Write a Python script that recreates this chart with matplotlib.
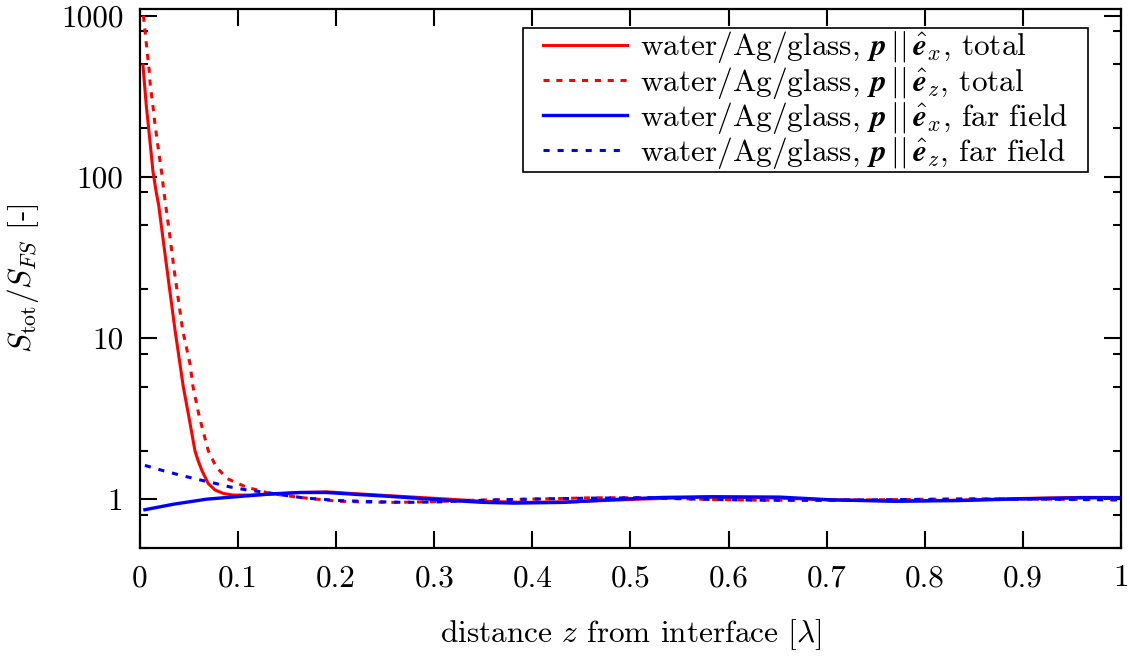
import numpy as np
import matplotlib
matplotlib.use("Agg")
import matplotlib.pyplot as plt
from matplotlib.patches import Rectangle
from matplotlib.ticker import FixedLocator, LogLocator, NullFormatter, FuncFormatter

plt.rcParams["font.family"] = "serif"
plt.rcParams["font.serif"] = ["cmr10"]
plt.rcParams["mathtext.fontset"] = "cm"
plt.rcParams["axes.formatter.use_mathtext"] = True

# ── Poynting flux, normalised to free space ─────────────────
# p || e_x, total
z_ex_tot = [0.003, 0.0064, 0.0099, 0.0133, 0.0166, 0.019, 0.025, 0.030,
            0.0357, 0.0441, 0.050, 0.056, 0.059, 0.063, 0.0696, 0.0765,
            0.085, 0.095, 0.112, 0.143, 0.163, 0.19, 0.221, 0.255, 0.315,
            0.35, 0.393, 0.445, 0.51, 0.575, 0.64, 0.705, 0.77, 0.835,
            0.90, 0.96, 1.0]
s_ex_tot = [494, 277, 172, 107, 80, 67, 35, 20.5,
            11.2, 5, 3.2, 2.0, 1.75, 1.51, 1.25, 1.14,
            1.085, 1.06, 1.06, 1.08, 1.10, 1.11, 1.08, 1.05, 1.0,
            0.97, 0.955, 0.965, 1.0, 1.03, 1.02, 0.99, 0.975, 0.985,
            1.01, 1.025, 1.025]

# p || e_z, total
z_ez_tot = [0.0035, 0.0054, 0.0071, 0.0092, 0.0105, 0.0129, 0.015, 0.0173,
            0.0197, 0.0221, 0.0241, 0.030, 0.035, 0.0435, 0.051, 0.054,
            0.0605, 0.0696, 0.0775, 0.089, 0.108, 0.1325, 0.16, 0.18,
            0.204, 0.231, 0.26, 0.3, 0.34, 0.38, 0.415, 0.462, 0.516, 0.584,
            0.635, 0.70, 0.78, 0.85, 0.92, 1.0]
s_ez_tot = [1000, 780, 610, 470, 370, 285, 220, 172,
            134, 106, 83, 45, 26, 11.2, 6.9, 5,
            3.24, 2.0, 1.59, 1.34, 1.19, 1.085, 1.03, 1.0,
            0.97, 0.96, 0.955, 0.965, 0.985, 0.995, 1.005, 1.02, 1.02, 0.995,
            0.985, 0.985, 0.995, 1.005, 1.0, 0.99]

# p || e_x, far field
z_ex_ff = [0.005, 0.034, 0.068, 0.102, 0.136, 0.163, 0.19, 0.221, 0.255,
           0.313, 0.35, 0.381, 0.432, 0.482, 0.533, 0.584, 0.652, 0.705,
           0.77, 0.835, 0.90, 0.96, 1.0]
s_ex_ff = [0.86, 0.93, 1.0, 1.04, 1.08, 1.10, 1.10, 1.07, 1.04,
           0.985, 0.955, 0.945, 0.955, 0.995, 1.025, 1.035, 1.03, 0.99,
           0.97, 0.98, 1.005, 1.02, 1.02]

# p || e_z, far field
z_ez_ff = [0.005, 0.024, 0.041, 0.058, 0.075, 0.092, 0.109, 0.129, 0.146,
           0.166, 0.183, 0.204, 0.238, 0.27, 0.3, 0.34, 0.38, 0.415, 0.462,
           0.516, 0.584, 0.635, 0.70, 0.78, 0.85, 0.92, 1.0]
s_ez_ff = [1.62, 1.50, 1.41, 1.33, 1.26, 1.19, 1.14, 1.10, 1.06,
           1.02, 1.0, 0.98, 0.965, 0.955, 0.96, 0.98, 0.995, 1.005, 1.015,
           1.02, 0.995, 0.985, 0.985, 0.995, 1.0, 1.0, 0.99]

x_ticks = [0, 0.1, 0.2, 0.3, 0.4, 0.5, 0.6, 0.7, 0.8, 0.9, 1.0]
x_ticklabels = ["0", "0.1", "0.2", "0.3", "0.4", "0.5", "0.6", "0.7", "0.8", "0.9", "1"]
y_ticks = [1, 10, 100, 1000]

lbl = r"water/Ag/glass, $\boldsymbol{{p}}\,||\,\hat{{\boldsymbol{{e}}}}_{0}$, {1}"

fig = plt.figure(figsize=(11.3, 6.57), dpi=100)
ax = fig.add_axes([0.1239, 0.1664, 0.868, 0.8199])

fs = 22.5
ax.plot(z_ex_tot, s_ex_tot, color="#ff0000", lw=2.2, label=lbl.format("x", "total"))
ax.plot(z_ez_tot, s_ez_tot, color="#ff0000", lw=2.2, dashes=(2, 2.2),
        label=lbl.format("z", "total"))
ax.plot(z_ex_ff, s_ex_ff, color="#0000ff", lw=2.4, label=lbl.format("x", "far field"))
ax.plot(z_ez_ff, s_ez_ff, color="#0000ff", lw=2.2, dashes=(2, 2.6),
        label=lbl.format("z", "far field"))

ax.set_yscale("log")
ax.set_xlim(0, 1)
ax.set_ylim(0.5, 1100)

ax.xaxis.set_major_locator(FixedLocator(x_ticks))
ax.set_xticklabels(x_ticklabels)
ax.yaxis.set_major_locator(FixedLocator(y_ticks))
ax.yaxis.set_major_formatter(FuncFormatter(lambda v, p: f"{v:g}"))
ax.yaxis.set_minor_locator(LogLocator(base=10, subs=(2, 5, 8)))
ax.yaxis.set_minor_formatter(NullFormatter())

ax.tick_params(which="both", direction="in", top=True, right=True,
               width=1.5, labelsize=fs)
ax.tick_params(which="major", length=12, pad=12)
ax.tick_params(which="minor", length=6)
for sp in ax.spines.values():
    sp.set_linewidth(1.6)

ax.set_xlabel(r"distance $z$ from interface $[\lambda]$", fontsize=fs, labelpad=18)
ax.set_ylabel(r"$S_{\mathrm{tot}}/S_{FS}$ [-]", fontsize=fs, labelpad=14)

# legend without its own frame; a box with wider side margins is drawn below
leg = ax.legend(loc="upper right", bbox_to_anchor=(0.946, 0.962),
                borderaxespad=0, fontsize=fs, frameon=False,
                handlelength=2.7, handletextpad=0.4, labelspacing=-0.03,
                borderpad=0)

fig.canvas.draw()
bb = leg.get_window_extent().transformed(fig.transFigure.inverted())
W, H = fig.get_size_inches() * fig.dpi
px, py = 20 / W, 1 / H
frame = Rectangle((bb.x0 - px, bb.y0 - py), bb.width + 2 * px, bb.height + 2 * py,
                  transform=fig.transFigure, facecolor="white", edgecolor="black",
                  lw=1.2, zorder=4.9, clip_on=False)
ax.add_patch(frame)

fig.savefig("out.png", dpi=100)
